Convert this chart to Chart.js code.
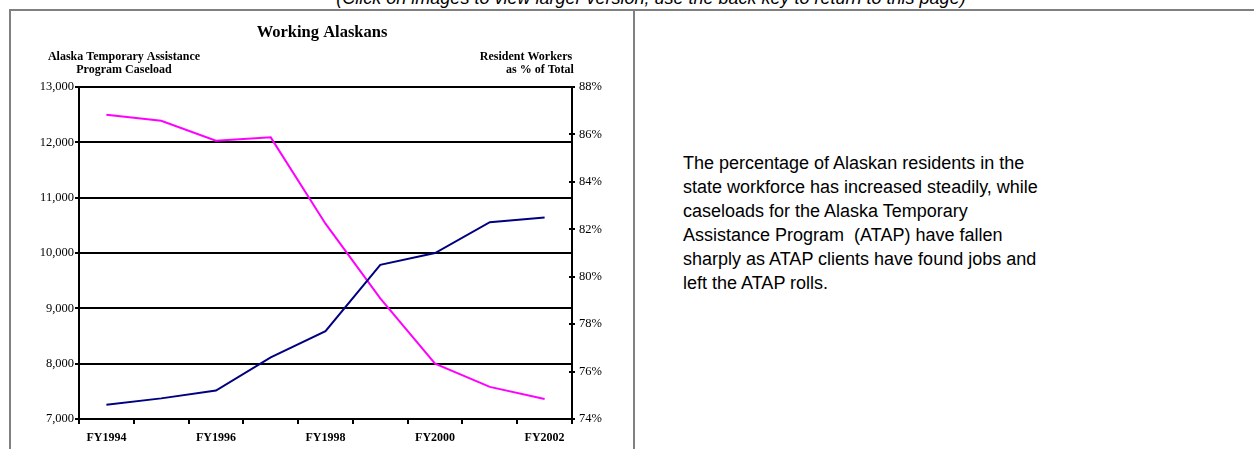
<!DOCTYPE html>
<html>
<head>
<meta charset="utf-8">
<script src="https://cdn.jsdelivr.net/npm/chart.js@4/dist/chart.umd.min.js"></script>
<style>
  html, body { margin: 0; padding: 0; background: #fff; width: 1254px; height: 449px; overflow: hidden; position: relative; }
  .frame { position: absolute; background: #808080; }
  #caption { position: absolute; top: -12px; left: 0; width: 1302px; text-align: center; font: italic 18px 'Liberation Sans', Arial, sans-serif; color: #000; white-space: nowrap; }
  #para { position: absolute; left: 683px; top: 151px; font: 18px 'Liberation Sans', Arial, sans-serif; line-height: 24px; color: #000; white-space: pre; }
  #chartWrap { position: absolute; left: 0; top: 0; width: 634px; height: 449px; }
</style>
</head>
<body>
<div id="caption">(Click on images to view larger version; use the back key to return to this page)</div>
<div class="frame" style="left:9px;top:9px;width:1300px;height:2px;"></div>
<div class="frame" style="left:9px;top:9px;width:2px;height:500px;"></div>
<div class="frame" style="left:633px;top:9px;width:2px;height:500px;"></div>
<div id="para">The percentage of Alaskan residents in the
state workforce has increased steadily, while
caseloads for the Alaska Temporary
Assistance Program  (ATAP) have fallen
sharply as ATAP clients have found jobs and
left the ATAP rolls.</div>
<div id="chartWrap"><canvas id="c" width="634" height="449"></canvas></div>
<script>
const categories = ['FY1994','FY1995','FY1996','FY1997','FY1998','FY1999','FY2000','FY2001','FY2002'];
const caseload = [12500, 12390, 12030, 12090, 10530, 9180, 8000, 7580, 7360];
const residentPct = [74.6, 74.87, 75.2, 76.6, 77.7, 80.5, 81.0, 82.3, 82.5];
const caseloadTicks = [7000, 8000, 9000, 10000, 11000, 12000, 13000];
const pctTicks = [74, 76, 78, 80, 82, 84, 86, 88];
const chartTitle = 'Working Alaskans';
const leftTitle = ['Alaska Temporary Assistance', 'Program Caseload'];
const rightTitle = ['Resident Workers', 'as % of Total'];

const serif = "'Liberation Serif', 'Times New Roman', serif";

const titlesPlugin = {
  id: 'titles',
  afterDraw(chart) {
    const ctx = chart.ctx;
    ctx.save();
    ctx.fillStyle = '#000';
    ctx.textBaseline = 'middle';
    ctx.textAlign = 'center';
    ctx.font = 'bold 16.5px ' + serif;
    ctx.fillText(chartTitle, 322, 33);
    ctx.font = 'bold 12px ' + serif;
    ctx.fillText(leftTitle[0], 124, 57);
    ctx.fillText(leftTitle[1], 124, 70);
    ctx.fillText(rightTitle[0], 526, 57);
    ctx.fillText(rightTitle[1], 540, 70);
    // inner half of the right-axis cross ticks
    const s = chart.scales.y1;
    ctx.strokeStyle = '#000';
    ctx.lineWidth = 2;
    pctTicks.forEach(v => {
      const y = Math.round(s.getPixelForValue(v));
      ctx.beginPath();
      ctx.moveTo(s.left - 3, y);
      ctx.lineTo(s.left, y);
      ctx.stroke();
    });
    ctx.restore();
  }
};

new Chart(document.getElementById('c'), {
  type: 'line',
  data: {
    labels: categories,
    datasets: [
      { label: 'Resident Workers as % of Total', data: residentPct, yAxisID: 'y1', borderColor: '#000080', borderWidth: 2, pointRadius: 0, tension: 0, fill: false },
      { label: 'ATAP Caseload', data: caseload, yAxisID: 'y', borderColor: '#ff00ff', borderWidth: 2, pointRadius: 0, tension: 0, fill: false }
    ]
  },
  options: {
    responsive: false,
    devicePixelRatio: 1,
    animation: false,
    layout: { padding: { top: 87, left: 0, right: 0, bottom: 0 } },
    plugins: { legend: { display: false }, title: { display: false }, tooltip: { enabled: false } },
    scales: {
      x: {
        type: 'category',
        offset: true,
        grid: { offset: true, drawOnChartArea: false, drawTicks: true, tickLength: 5, color: '#000', lineWidth: 2 },
        border: { display: true, color: '#000', width: 2 },
        ticks: {
          autoSkip: false, maxRotation: 0, padding: 7, color: '#000',
          font: { family: serif, size: 12, weight: 'bold' },
          callback: function(v, i) { return i % 2 === 0 ? this.getLabelForValue(v) : ''; }
        },
        afterFit: s => { s.height = 30; }
      },
      y: {
        position: 'left',
        min: caseloadTicks[0], max: caseloadTicks[caseloadTicks.length - 1],
        afterBuildTicks: s => { s.ticks = caseloadTicks.map(v => ({ value: v })); },
        grid: { color: '#000', lineWidth: 2, drawTicks: true, tickLength: 4 },
        border: { display: true, color: '#000', width: 2 },
        ticks: { padding: 1, color: '#000', font: { family: serif, size: 12.5 }, callback: v => v.toLocaleString('en-US') },
        afterFit: s => { s.width = 79; }
      },
      y1: {
        position: 'right',
        min: pctTicks[0], max: pctTicks[pctTicks.length - 1],
        afterBuildTicks: s => { s.ticks = pctTicks.map(v => ({ value: v })); },
        grid: { drawOnChartArea: false, color: '#000', lineWidth: 2, drawTicks: true, tickLength: 3 },
        border: { display: true, color: '#000', width: 2 },
        ticks: { padding: 4, color: '#000', font: { family: serif, size: 12.5 }, callback: v => v + '%' },
        afterFit: s => { s.width = 62; }
      }
    }
  },
  plugins: [titlesPlugin]
});
</script>
</body>
</html>
